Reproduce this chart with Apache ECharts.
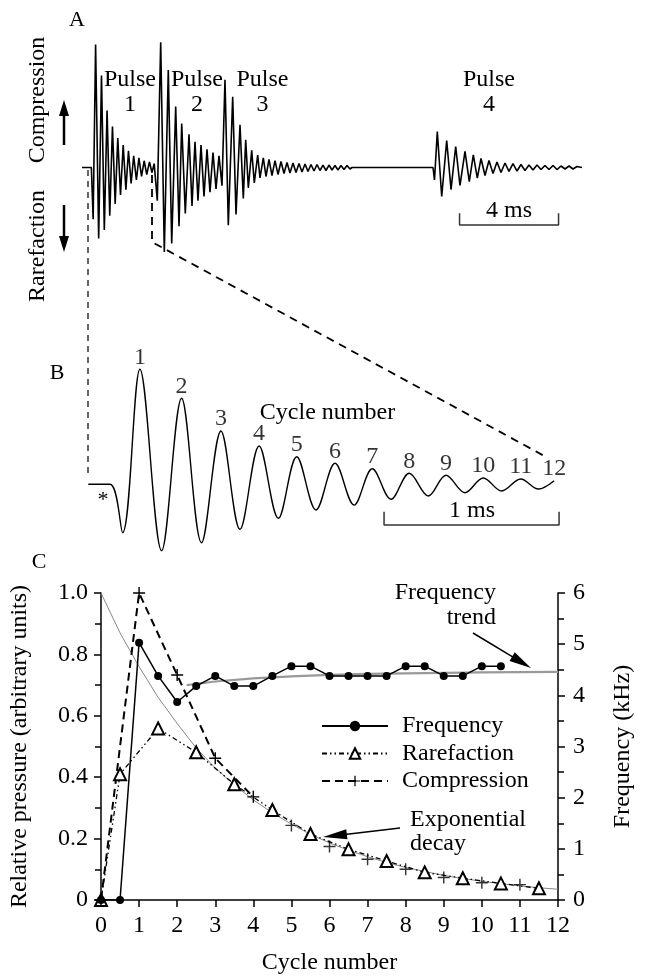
<!DOCTYPE html>
<html><head><meta charset="utf-8">
<script src="https://cdn.jsdelivr.net/npm/echarts@6/dist/echarts.min.js"></script>
<style>html,body{margin:0;padding:0;background:#fff}#c{width:646px;height:979px}</style>
</head><body><div id="c"></div>
<script>
// ---------- Panel C data ----------
const cycleTicks = [0,1,2,3,4,5,6,7,8,9,10,11,12];
const freqCycles = [0,0.5,1,1.5,2,2.5,3,3.5,4,4.5,5,5.5,6,6.5,7,7.5,8,8.5,9,9.5,10,10.5];
const frequencyKHz = [0,0,5.03,4.38,3.87,4.18,4.38,4.18,4.18,4.38,4.57,4.57,4.38,4.38,4.38,4.38,4.57,4.57,4.38,4.38,4.57,4.57];
const rarefactionCycles = [0,0.5,1.5,2.5,3.5,4.5,5.5,6.5,7.5,8.5,9.5,10.5,11.5];
const rarefactionValues = [0,0.41,0.559,0.481,0.377,0.293,0.215,0.165,0.127,0.09,0.071,0.054,0.038];
const compressionCycles = [0,1,2,3,4,5,6,7,8,9,10,11];
const compressionValues = [0,1.0,0.733,0.462,0.336,0.243,0.174,0.133,0.1,0.073,0.056,0.05];
const trendCycles = [2.25,3,4,5,6,7,8,10,12];
const trendKHz = [4.2,4.27,4.33,4.37,4.4,4.42,4.43,4.45,4.46];
const decayCycles = [0,0.5,1,1.5,2,2.5,3,3.5,4,4.5,5,5.5,6,6.5,7,7.5,8,8.5,9,9.5,10,10.5,11,11.5,12];
const decayValues = [1.0,0.87,0.76,0.66,0.575,0.495,0.43,0.375,0.326,0.284,0.247,0.214,0.186,0.162,0.141,0.122,0.106,0.093,0.080,0.070,0.061,0.053,0.046,0.040,0.035];

// ---------- Panel B / pulse 1 waveform: [time ms, amplitude] ----------
const bWave = [[0,0],[0.124,0],[0.196,-48.4],[0.295,115],[0.419,-66.4],[0.533,86],[0.647,-58.4],[0.758,53.3],[0.867,-45],[0.976,38.3],[1.086,-34],[1.191,27.6],[1.301,-25.7],[1.410,21],[1.519,-20.7],[1.623,15.6],[1.730,-15],[1.834,11],[1.943,-11.7],[2.044,9],[2.152,-8.4],[2.257,6.3],[2.362,-6.7],[2.471,5.3],[2.572,-4.7],[2.662,3.6]];
const bCycleLabels = ['1','2','3','4','5','6','7','8','9','10','11','12'];
const bScaleBarMs = [1.69, 2.69];

// ---------- Panel A waveform pulses 2-4 ----------
const pulse2Wave = [[2.788,-31],[2.925,117],[3.071,-79],[3.232,91],[3.370,-71],[3.531,57],[3.665,-55],[3.774,41],[3.919,-43],[4.069,31],[4.190,-36],[4.311,24],[4.432,-31],[4.554,21],[4.675,-27],[4.796,17],[4.917,-23],[5.038,14],[5.160,-20],[5.281,11],[5.402,-17]];
const pulse3Wave = [[5.523,82],[5.657,-54],[5.834,66],[5.968,-44],[6.129,40],[6.263,-29],[6.360,26],[6.465,-19],[6.602,16],[6.707,-14.5],[6.844,11.7],[6.937,-9.8],[7.071,8.9],[7.180,-8.4],[7.301,7.5],[7.422,-7.5],[7.543,6.5],[7.665,-6.5],[7.786,5.6],[7.907,-5.6],[8.028,4.7],[8.149,-5.1],[8.271,4.2],[8.392,-4.7],[8.513,3.7],[8.634,-4.2],[8.756,3.3],[8.877,-3.7],[8.998,2.8],[9.119,-3.3],[9.240,2.8],[9.362,-2.8],[9.483,2.3],[9.604,-2.8],[9.725,2.3],[9.846,-2.3],[9.968,1.9],[10.089,-2.3],[10.210,1.9],[10.331,-1.9],[10.453,1.9],[10.574,-1.4],[10.655,0]];
const pulse4Wave = [[13.927,0],[13.988,-11.7],[14.101,33.6],[14.279,-27.1],[14.481,25.2],[14.655,-20.6],[14.844,19.6],[15.018,-16.8],[15.220,15],[15.394,-13.1],[15.556,11.9],[15.717,-9.9],[15.867,8.4],[16.028,-7.5],[16.190,6.5],[16.352,-5.6],[16.513,5.1],[16.675,-4.7],[16.836,4.2],[16.998,-3.7],[17.160,3.7],[17.321,-3.3],[17.483,2.8],[17.644,-2.8],[17.806,2.3],[17.968,-2.3],[18.129,2.3],[18.291,-1.9],[18.453,1.9],[18.614,-1.9],[18.776,1.9],[18.937,-1.9],[19.099,1.4],[19.261,-1.4],[19.422,1.4],[19.584,-1.4],[19.745,0.9],[19.947,0]];
const aLeadIn = [[-0.255,0]];
const aScaleBarMs = [15, 19];

const FONT = '"Liberation Serif", "Times New Roman", Times, serif';
const zip = (xs, ys) => xs.map((x, i) => [x, ys[i]]);
const aTrace = aLeadIn.concat(bWave, pulse2Wave, pulse3Wave, pulse4Wave);
const bPeaks = bWave.filter((d, i) => i >= 3 && i % 2 === 1);
const compPts = zip(compressionCycles, compressionValues);
const plusPath = 'path://M4.4,0H5.6V4.4H10V5.6H5.6V10H4.4V5.6H0V4.4H4.4Z';

function arrow(x1, y1, x2, y2, hl, hw, lw) {
  const dx = x2 - x1, dy = y2 - y1, L = Math.hypot(dx, dy), ux = dx / L, uy = dy / L;
  const bx = x2 - ux * hl, by = y2 - uy * hl, px = -uy * hw / 2, py = ux * hw / 2;
  return [
    {type: 'line', shape: {x1: x1, y1: y1, x2: bx + ux * 2, y2: by + uy * 2}, style: {stroke: '#000', lineWidth: lw}},
    {type: 'polygon', shape: {points: [[x2, y2], [bx + px, by + py], [bx - px, by - py]]}, style: {fill: '#000'}}
  ];
}
function txt(x, y, text, size, extra) {
  return Object.assign({type: 'text', x: x, y: y, style: Object.assign({text: text, fontSize: size || 24, fontFamily: FONT, fill: '#000', align: 'center', verticalAlign: 'middle'}, (extra && extra.style) || {})}, extra && extra.rot ? {rotation: extra.rot} : {});
}

const axisCommon = {
  axisLine: {show: true, onZero: false, lineStyle: {color: '#000', width: 1.5}},
  axisTick: {show: true, length: 7, lineStyle: {color: '#000', width: 1.5}},
  splitLine: {show: false},
  axisLabel: {color: '#000', fontSize: 24, fontFamily: FONT, margin: 13}
};

const graphics = [].concat(
  [txt(77, 20, 'A', 22), txt(57, 373, 'B', 22), txt(39, 562, 'C', 22)],
  [txt(38, 100, 'Compression', 24, {rot: Math.PI / 2}), txt(38, 246, 'Rarefaction', 24, {rot: Math.PI / 2})],
  arrow(64, 145, 64, 100, 16, 10, 2.5), arrow(64, 205, 64, 252, 16, 10, 2.5),
  [txt(130, 92, 'Pulse\n1', 24, {style: {lineHeight: 25}}), txt(197, 92, 'Pulse\n2', 24, {style: {lineHeight: 25}}),
   txt(262.5, 92, 'Pulse\n3', 24, {style: {lineHeight: 25}}), txt(489, 92, 'Pulse\n4', 24, {style: {lineHeight: 25}})],
  [txt(509, 211, '4 ms'), txt(103, 500, '*', 22), txt(327.5, 413, 'Cycle number'), txt(472, 511, '1 ms')],
  [{type: 'line', shape: {x1: 88, y1: 170, x2: 88, y2: 478}, style: {stroke: '#000', lineWidth: 1.2, lineDash: [6, 5]}},
   {type: 'polyline', shape: {points: [[152, 175], [152, 242], [548, 458]]}, style: {stroke: '#000', lineWidth: 1.8, lineDash: [8, 6], fill: null}}],
  [txt(496, 605.5, 'Frequency\ntrend', 24, {style: {align: 'right', lineHeight: 25}}),
   txt(410, 831.5, 'Exponential\ndecay', 24, {style: {align: 'left', lineHeight: 24}})],
  arrow(473, 633, 531, 668, 22, 10, 1.5), arrow(400, 828, 323, 837, 24, 10, 1.5)
);

const chart = echarts.init(document.getElementById('c'), null, {renderer: 'canvas'});
chart.setOption({
  animation: false,
  backgroundColor: '#fff',
  textStyle: {fontFamily: FONT, color: '#000'},
  grid: [
    {left: 80.875, width: 514.8, top: 7, height: 267.5, outerBoundsMode: 'none'},
    {left: 70.8, width: 490, top: 344.3, height: 220, outerBoundsMode: 'none'},
    {left: 101, width: 457, top: 593, height: 307, outerBoundsMode: 'none'}
  ],
  xAxis: [
    {gridIndex: 0, type: 'value', min: -0.3, max: 20.5, show: false},
    {gridIndex: 1, type: 'value', min: -0.1, max: 2.7, show: false},
    Object.assign({gridIndex: 2, type: 'value', min: 0, max: 12, interval: 1,
      name: 'Cycle number', nameLocation: 'middle', nameGap: 51,
      nameTextStyle: {fontSize: 24, fontFamily: FONT, color: '#000'}}, axisCommon,
      {axisLabel: Object.assign({}, axisCommon.axisLabel, {margin: 14})})
  ],
  yAxis: [
    {gridIndex: 0, type: 'value', min: -100, max: 150, show: false},
    {gridIndex: 1, type: 'value', min: -80, max: 140, show: false},
    Object.assign({gridIndex: 2, type: 'value', min: 0, max: 1, interval: 0.2, position: 'left',
      name: 'Relative pressure (arbitrary units)', nameLocation: 'middle', nameGap: 69, nameRotate: 90,
      nameTextStyle: {fontSize: 24, fontFamily: FONT, color: '#000'},
      minorTick: {show: true, splitNumber: 2, length: 6, lineStyle: {color: '#000', width: 1.5}}}, axisCommon,
      {axisLabel: Object.assign({}, axisCommon.axisLabel, {formatter: v => v === 0 ? '0' : v.toFixed(1)})}),
    Object.assign({gridIndex: 2, type: 'value', min: 0, max: 6, interval: 1, position: 'right',
      name: 'Frequency (kHz)', nameLocation: 'middle', nameGap: 53, nameRotate: 90,
      nameTextStyle: {fontSize: 24, fontFamily: FONT, color: '#000'},
      minorTick: {show: true, splitNumber: 2, length: 6, lineStyle: {color: '#000', width: 1.5}}}, axisCommon,
      {axisLabel: Object.assign({}, axisCommon.axisLabel, {margin: 15})})
  ],
  legend: {
    data: ['Frequency', 'Rarefaction', 'Compression'],
    orient: 'vertical', left: 316, top: 709, itemWidth: 66, itemHeight: 13, itemGap: 3.5,
    textStyle: {fontSize: 24, fontFamily: FONT, color: '#000', padding: [0, 0, 0, 9]},
    selectedMode: false
  },
  series: [
    {type: 'line', name: 'A trace', xAxisIndex: 0, yAxisIndex: 0, data: aTrace, showSymbol: false, silent: true,
      lineStyle: {color: '#000', width: 1.6}},
    {type: 'line', name: 'A bar', xAxisIndex: 0, yAxisIndex: 0, showSymbol: false, silent: true,
      data: [[aScaleBarMs[0], -42.8], [aScaleBarMs[0], -53.7], [aScaleBarMs[1], -53.7], [aScaleBarMs[1], -42.8]],
      lineStyle: {color: '#333', width: 1.5}},
    {type: 'line', name: 'B trace', xAxisIndex: 1, yAxisIndex: 1, data: bWave, showSymbol: false, silent: true, smooth: 0.35,
      lineStyle: {color: '#000', width: 1.4}},
    {type: 'scatter', name: 'B labels', xAxisIndex: 1, yAxisIndex: 1, data: bPeaks, symbolSize: 0, silent: true,
      label: {show: true, position: 'top', distance: 0, fontSize: 24, fontFamily: FONT, color: '#000',
        formatter: p => bCycleLabels[p.dataIndex]}},
    {type: 'line', name: 'B bar', xAxisIndex: 1, yAxisIndex: 1, showSymbol: false, silent: true,
      data: [[bScaleBarMs[0], -27.4], [bScaleBarMs[0], -40.7], [bScaleBarMs[1], -40.7], [bScaleBarMs[1], -27.4]],
      lineStyle: {color: '#333', width: 1.5}},
    {type: 'line', name: 'Exponential decay', xAxisIndex: 2, yAxisIndex: 2, data: zip(decayCycles, decayValues),
      showSymbol: false, silent: true, z: 1, lineStyle: {color: '#888', width: 1}},
    {type: 'line', name: 'Frequency trend', xAxisIndex: 2, yAxisIndex: 3, data: zip(trendCycles, trendKHz),
      showSymbol: false, silent: true, z: 1, lineStyle: {color: '#999', width: 2.2}},
    {type: 'line', name: 'Rarefaction', xAxisIndex: 2, yAxisIndex: 2, data: zip(rarefactionCycles, rarefactionValues),
      symbol: 'emptyTriangle', symbolSize: 12, color: '#000',
      itemStyle: {color: '#000', borderColor: '#000', borderWidth: 1.3},
      lineStyle: {color: '#000', width: 1.3, type: [5, 3, 1.5, 3, 1.5, 3]}},
    {type: 'line', name: 'Compression', xAxisIndex: 2, yAxisIndex: 2, data: compPts.slice(0, 5),
      symbol: plusPath, symbolSize: 12, color: '#000', itemStyle: {color: '#000'},
      lineStyle: {color: '#000', width: 2, type: [8, 5]}},
    {type: 'scatter', name: 'Compression tail', xAxisIndex: 2, yAxisIndex: 2, data: compPts.slice(5),
      symbol: plusPath, symbolSize: 12, itemStyle: {color: '#000'}},
    {type: 'line', name: 'Frequency', xAxisIndex: 2, yAxisIndex: 3, data: zip(freqCycles, frequencyKHz),
      symbol: 'circle', symbolSize: 8, color: '#000', itemStyle: {color: '#000'},
      lineStyle: {color: '#000', width: 1.5}}
  ],
  graphic: graphics
});
</script></body></html>
